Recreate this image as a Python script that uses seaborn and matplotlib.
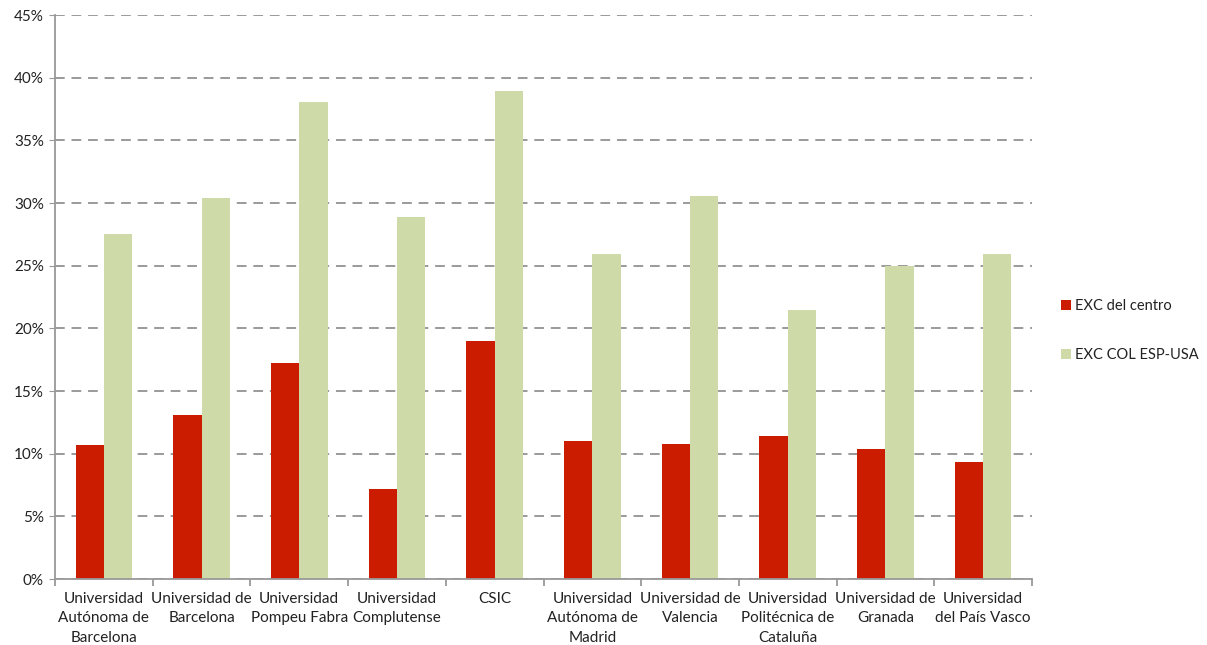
import pandas as pd
import numpy as np
import matplotlib.pyplot as plt
import seaborn as sns
from matplotlib.ticker import FuncFormatter, FixedLocator

# Data
universidades = [
    'Universidad\nAutónoma de\nBarcelona',
    'Universidad de\nBarcelona',
    'Universidad\nPompeu Fabra',
    'Universidad\nComplutense',
    'CSIC',
    'Universidad\nAutónoma de\nMadrid',
    'Universidad de\nValencia',
    'Universidad\nPolitécnica de\nCataluña',
    'Universidad de\nGranada',
    'Universidad\ndel País Vasco',
]
exc_centro = [10.7, 13.1, 17.2, 7.2, 19.0, 11.0, 10.8, 11.4, 10.4, 9.3]
exc_col = [27.5, 30.4, 38.1, 28.9, 38.9, 25.9, 30.6, 21.5, 25.0, 25.9]
series = ['EXC del centro', 'EXC COL ESP-USA']
colors = ['#CC1C00', '#CEDBA9']

df = pd.DataFrame({
    'Universidad': universidades * 2,
    'Serie': [series[0]] * len(universidades) + [series[1]] * len(universidades),
    'Valor': exc_centro + exc_col,
})

sns.set_style('white')
plt.rcParams['font.family'] = ['Lato', 'DejaVu Sans']

fig = plt.figure(figsize=(12.07, 6.45), dpi=100)
ax = fig.add_axes([0.0456, 0.1023, 0.8094, 0.8744])

sns.barplot(data=df, x='Universidad', y='Valor', hue='Serie',
            palette=colors, width=0.58, saturation=1, linewidth=0, ax=ax)

# Axes styling
ax.set_ylim(0, 45)
ax.set_xlim(-0.5, len(universidades) - 0.5)
ax.set_yticks(np.arange(0, 46, 5))
ax.yaxis.set_major_formatter(FuncFormatter(lambda v, p: f'{v:.0f}%'))
ax.yaxis.grid(True, linestyle=(0, (5, 3.5)), color='#9a9a9a', linewidth=1.4)
ax.set_axisbelow(True)
ax.set_xlabel('')
ax.set_ylabel('')

for side in ['top', 'right']:
    ax.spines[side].set_visible(False)
for side in ['left', 'bottom']:
    ax.spines[side].set_color('#999999')
    ax.spines[side].set_linewidth(1.3)

ax.tick_params(axis='y', left=True, length=4, color='#999999',
               labelsize=11, labelcolor='#222222', pad=4)
ax.tick_params(axis='x', which='major', length=0, labelsize=11,
               labelcolor='#222222', pad=9)
for lbl in ax.get_xticklabels():
    lbl.set_linespacing(1.5)
ax.xaxis.set_minor_locator(FixedLocator(np.arange(-0.5, len(universidades), 1)))
ax.tick_params(axis='x', which='minor', bottom=True, length=5,
               color='#999999', width=1.3)

leg = ax.legend(loc='center left', bbox_to_anchor=(1.022, 0.44), frameon=False,
                fontsize=10.5, handlelength=0.7, handleheight=0.7,
                labelspacing=2.4, handletextpad=0.25, borderpad=0)
for t in leg.get_texts():
    t.set_color('#222222')

fig.savefig('out.png', dpi=100)
